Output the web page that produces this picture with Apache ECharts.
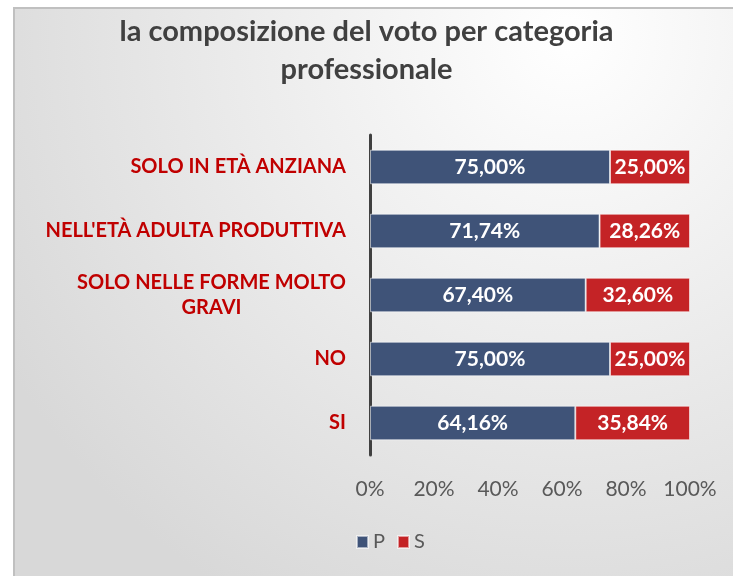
<!DOCTYPE html>
<html>
<head>
<meta charset="utf-8">
<script src="https://cdn.jsdelivr.net/npm/echarts@6/dist/echarts.min.js"></script>
<style>
  html, body { margin: 0; padding: 0; background: #ffffff; }
  #chart { width: 733px; height: 576px; }
</style>
</head>
<body>
<div id="chart"></div>
<script>
// categorie dall'alto verso il basso
const categories = [
  'SOLO IN ETÀ ANZIANA',
  "NELL'ETÀ ADULTA PRODUTTIVA",
  'SOLO NELLE FORME MOLTO\nGRAVI',
  'NO',
  'SI'
]
const valuesP = [75.00, 71.74, 67.40, 75.00, 64.16]
const valuesS = [25.00, 28.26, 32.60, 25.00, 35.84]
const xTicks = [0, 20, 40, 60, 80, 100]

const fontFamily = 'Lato, "Open Sans", sans-serif'
const fmt = (v) => v.toFixed(2).replace('.', ',') + '%'

// etichette su due righe: centrate come blocco, blocco allineato a destra
const ctx = document.createElement('canvas').getContext('2d')
ctx.font = 'bold 20px ' + fontFamily
const yData = categories.map((c) => {
  if (c.indexOf('\n') < 0) return c
  const w = Math.max(...c.split('\n').map((s) => ctx.measureText(s).width))
  return { value: c, textStyle: { align: 'center', padding: [0, w, 0, 0] } }
})

const chart = echarts.init(document.getElementById('chart'))
const option = {
  backgroundColor: '#ffffff',
  textStyle: { fontFamily: fontFamily },
  graphic: [{
    type: 'rect',
    z: -10,
    shape: { x: 14, y: 8, width: 740, height: 590 },
    style: {
      fill: new echarts.graphic.RadialGradient(0.75, 0.05, 1.1, [
        { offset: 0, color: '#ffffff' },
        { offset: 1, color: '#d8d8d8' }
      ]),
      stroke: '#c0c0c0',
      lineWidth: 2
    }
  }],
  title: {
    text: 'la composizione del voto per categoria\nprofessionale',
    left: 'center',
    top: 8,
    textStyle: {
      fontFamily: fontFamily,
      fontSize: 29,
      fontWeight: 'bold',
      color: '#404040',
      lineHeight: 38
    }
  },
  legend: {
    left: 351,
    top: 527,
    icon: 'rect',
    itemWidth: 11,
    itemHeight: 12,
    itemGap: 12,
    textStyle: { fontFamily: fontFamily, fontSize: 20, color: '#595959' },
    data: ['P', 'S']
  },
  grid: {
    left: 370,
    right: 43,
    top: 135,
    height: 320,
    containLabel: false
  },
  xAxis: {
    type: 'value',
    min: 0,
    max: 100,
    interval: 20,
    axisLine: { show: false },
    axisTick: { show: false },
    splitLine: { show: false },
    axisLabel: {
      margin: 24,
      fontFamily: fontFamily,
      fontSize: 21,
      color: '#595959',
      formatter: (v) => xTicks.includes(v) ? v + '%' : ''
    }
  },
  yAxis: {
    type: 'category',
    inverse: true,
    data: yData,
    axisLine: { show: true, lineStyle: { color: '#404040', width: 3 } },
    axisTick: { show: false },
    axisLabel: {
      margin: 24,
      fontFamily: fontFamily,
      fontSize: 20,
      fontWeight: 'bold',
      color: '#c00000',
      align: 'right',
      lineHeight: 25
    }
  },
  series: [
    {
      name: 'P',
      type: 'bar',
      stack: 'tot',
      barWidth: '54%',
      data: valuesP,
      itemStyle: { color: '#3f5378', borderColor: 'rgba(255,255,255,0.55)', borderWidth: 1 },
      label: {
        show: true,
        position: 'inside',
        color: '#ffffff',
        fontFamily: fontFamily,
        fontSize: 21,
        fontWeight: 'bold',
        formatter: (p) => fmt(p.value)
      }
    },
    {
      name: 'S',
      type: 'bar',
      stack: 'tot',
      barWidth: '54%',
      data: valuesS,
      itemStyle: { color: '#c42326', borderColor: 'rgba(255,255,255,0.55)', borderWidth: 1 },
      label: {
        show: true,
        position: 'inside',
        color: '#ffffff',
        fontFamily: fontFamily,
        fontSize: 21,
        fontWeight: 'bold',
        formatter: (p) => fmt(p.value)
      }
    }
  ]
}
chart.setOption(option)
</script>
</body>
</html>
